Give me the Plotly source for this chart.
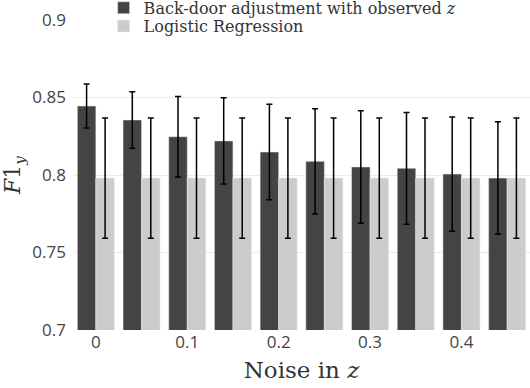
import plotly.graph_objects as go

noise = [0, 0.05, 0.1, 0.15, 0.2, 0.25, 0.3, 0.35, 0.4, 0.45]

backdoor = [0.8445, 0.8355, 0.8247, 0.822, 0.8148, 0.8088, 0.8052, 0.8043, 0.8006, 0.798]
backdoor_err = [0.0142, 0.0182, 0.026, 0.0278, 0.0308, 0.034, 0.0363, 0.036, 0.0369, 0.0363]

logreg = [0.798] * 10
logreg_err = [0.0388] * 10

tick_vals = [0, 0.1, 0.2, 0.3, 0.4]
tick_text = ["0", "0.1", "0.2", "0.3", "0.4"]

serif = "DejaVu Serif"
leg_font = dict(family=serif, size=16, color="#333333")

fig = go.Figure()
fig.add_trace(go.Bar(x=noise, y=backdoor, name="Back-door adjustment with observed <i>z</i>",
                     marker_color="#444444", legend="legend",
                     error_y=dict(type="data", array=backdoor_err, color="black", thickness=1.5, width=3)))
fig.add_trace(go.Bar(x=noise, y=logreg, name="Logistic Regression",
                     marker_color="#cccccc", legend="legend2",
                     error_y=dict(type="data", array=logreg_err, color="black", thickness=1.5, width=3)))

fig.update_layout(
    width=530, height=388,
    margin=dict(l=73, r=0, t=20, b=58, autoexpand=False),
    plot_bgcolor="white", paper_bgcolor="white",
    barmode="group", bargap=0.19, bargroupgap=0,
    showlegend=True,
    legend=dict(x=0.067, y=1.094, xanchor="left", yanchor="top", font=leg_font,
                bgcolor="rgba(0,0,0,0)", itemwidth=30),
    legend2=dict(x=0.067, y=1.035, xanchor="left", yanchor="top", font=leg_font,
                 bgcolor="rgba(0,0,0,0)", itemwidth=30),
    xaxis=dict(range=[-0.025, 0.475], tickvals=tick_vals, ticktext=tick_text,
               showgrid=False, zeroline=False, showline=False,
               tickfont=dict(family="Open Sans", size=17, color="#444444"),
               title=dict(text="Noise in <i>z</i>", font=dict(family=serif, size=23, color="#333333"),
                          standoff=9)),
    yaxis=dict(range=[0.7, 0.9], tickvals=[0.7, 0.75, 0.8, 0.85, 0.9],
               ticktext=["0.7", "0.75", "0.8", "0.85", "0.9"],
               showgrid=True, gridcolor="#ebebeb", zeroline=False, showline=False,
               ticklabelstandoff=6, ticklabeloverflow="allow",
               tickfont=dict(family="Open Sans", size=17, color="#444444"),
               title=dict(text="<i>F</i>1<sub><i>y</i></sub>", font=dict(family=serif, size=22, color="#333333"),
                          standoff=15)),
)

# drop the default 8px page margin so the chart sits flush in the window
fig.write_html("out.html", config={"displayModeBar": False},
               post_script="document.body.style.margin='0px';")
